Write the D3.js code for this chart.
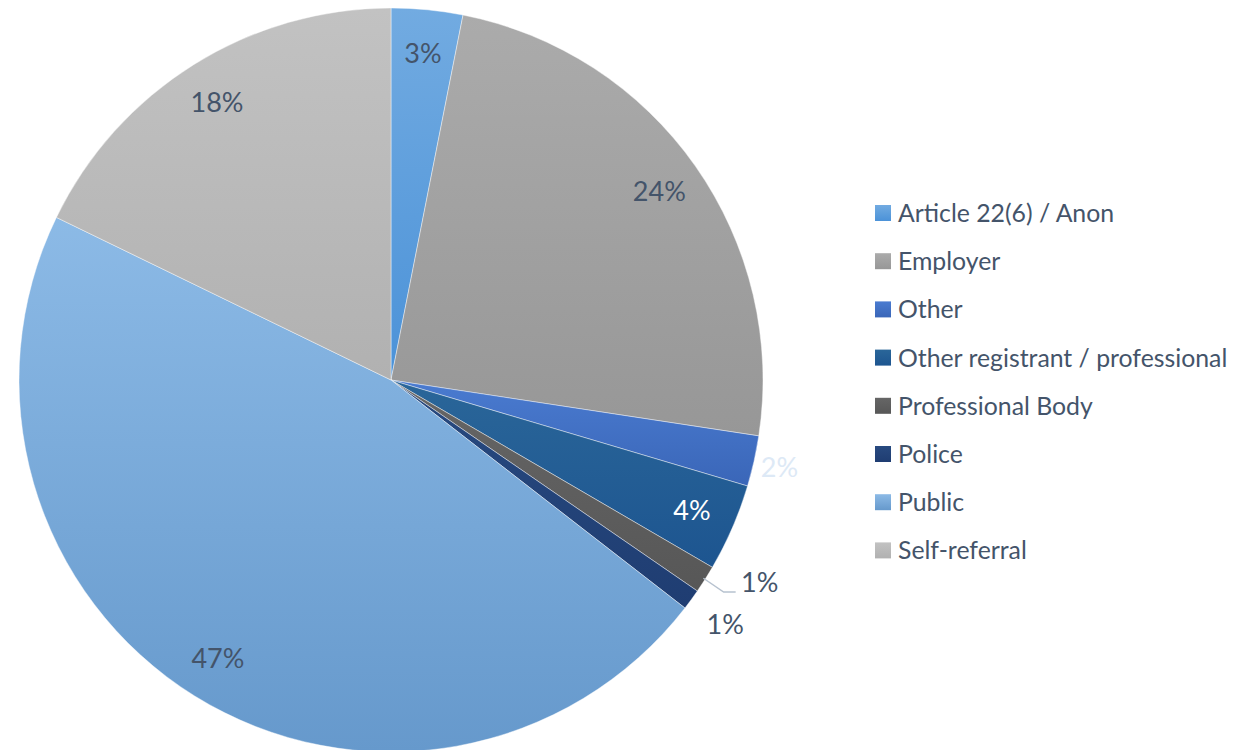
<!DOCTYPE html>
<html>
<head>
<meta charset="utf-8">
<script src="https://cdn.jsdelivr.net/npm/d3@7"></script>
<style>
  body { margin: 0; background: #fff; }
  svg { display: block; font-family: Lato, "Open Sans", sans-serif; }
</style>
</head>
<body>
<svg id="chart" width="1249" height="750"></svg>
<script>
// Data (percent of referrals)
var categories = ["Article 22(6) / Anon", "Employer", "Other", "Other registrant / professional",
                  "Professional Body", "Police", "Public", "Self-referral"];
var values = [3.1, 24.3, 2.2, 3.8, 1.2, 0.9, 46.7, 17.8];
var labels = ["3%", "24%", "2%", "4%", "1%", "1%", "47%", "18%"];
// gradient colours per slice, top -> bottom
var colorsTop = ["#72abe1", "#ababab", "#4a7bd0", "#2a6699", "#666666", "#284a80", "#8cbae6", "#c2c2c2"];
var colorsBottom = ["#4b92d8", "#979797", "#3a66b8", "#1d5590", "#575757", "#1f3d72", "#6699cc", "#b1b1b1"];

var data = categories.map(function (c, i) {
    return { name: c, value: values[i], label: labels[i], i: i };
});

var svg = d3.select("#chart");
var cx = 391, cy = 380, R = 372;

// gradients
var defs = svg.append("defs");
data.forEach(function (d) {
    var g = defs.append("linearGradient")
        .attr("id", "grad" + d.i)
        .attr("x1", 0).attr("y1", 0).attr("x2", 0).attr("y2", 1);
    g.append("stop").attr("offset", "0%").attr("stop-color", colorsTop[d.i]);
    g.append("stop").attr("offset", "100%").attr("stop-color", colorsBottom[d.i]);
});

var pie = d3.pie().sort(null).value(function (d) { return d.value; });
var arcs = pie(data);
var arc = d3.arc().innerRadius(0).outerRadius(R);
var labelArc = d3.arc().innerRadius(328).outerRadius(328);

var G = svg.append("g").attr("transform", "translate(" + cx + "," + cy + ")");

G.selectAll("path.slice")
    .data(arcs)
    .enter()
    .append("path")
    .classed("slice", true)
    .attr("d", arc)
    .attr("fill", function (d) { return "url(#grad" + d.data.i + ")"; })
    .attr("stroke", "rgba(255,255,255,0.6)")
    .attr("stroke-width", 0.7);

// label placement: inside for big slices, outside for the small ones
var outside = { 2: 398, 5: 414 };
var labelColor = function (i) {
    if (i === 3) return "#ffffff";
    if (i === 2) return "#dde9f6";
    return "#44546a";
};

var labelPos = function (d) {
    var i = d.data.i;
    if (outside[i]) {
        var a = d3.arc().innerRadius(outside[i]).outerRadius(outside[i]);
        return a.centroid(d);
    }
    return labelArc.centroid(d);
};

// leader line for Professional Body
var pb = arcs[4];
var mid = (pb.startAngle + pb.endAngle) / 2;
var p0 = [Math.sin(mid) * (R - 2), -Math.cos(mid) * (R - 2)];
var p1 = [Math.sin(mid) * (R + 22), -Math.cos(mid) * (R + 22) + 1];
G.append("polyline")
    .attr("points", [p0, p1, [p1[0] + 12, p1[1]]].map(function (p) { return p.join(","); }).join(" "))
    .attr("fill", "none")
    .attr("stroke", "#b7c2cf")
    .attr("stroke-width", 1.5);

G.selectAll("text.label")
    .data(arcs)
    .enter()
    .append("text")
    .classed("label", true)
    .attr("transform", function (d) {
        var p = labelPos(d);
        if (d.data.i === 4) p = [p1[0] + 12 + 24, p1[1] - 10];
        return "translate(" + p[0] + "," + p[1] + ")";
    })
    .attr("text-anchor", "middle")
    .attr("dy", "0.36em")
    .style("font-size", "27px")
    .attr("fill", function (d) { return labelColor(d.data.i); })
    .text(function (d) { return d.data.label; });

// legend
var legend = svg.append("g").attr("transform", "translate(875,213)");
var row = legend.selectAll("g.item")
    .data(data)
    .enter()
    .append("g")
    .classed("item", true)
    .attr("transform", function (d) { return "translate(0," + (d.i * 48.2) + ")"; });
row.append("rect")
    .attr("x", 0).attr("y", -8)
    .attr("width", 16).attr("height", 16)
    .attr("fill", function (d) { return "url(#grad" + d.i + ")"; });
row.append("text")
    .attr("x", 23)
    .attr("dy", "0.36em")
    .style("font-size", "24.8px")
    .attr("fill", "#44546a")
    .text(function (d) { return d.name; });
</script>
</body>
</html>
